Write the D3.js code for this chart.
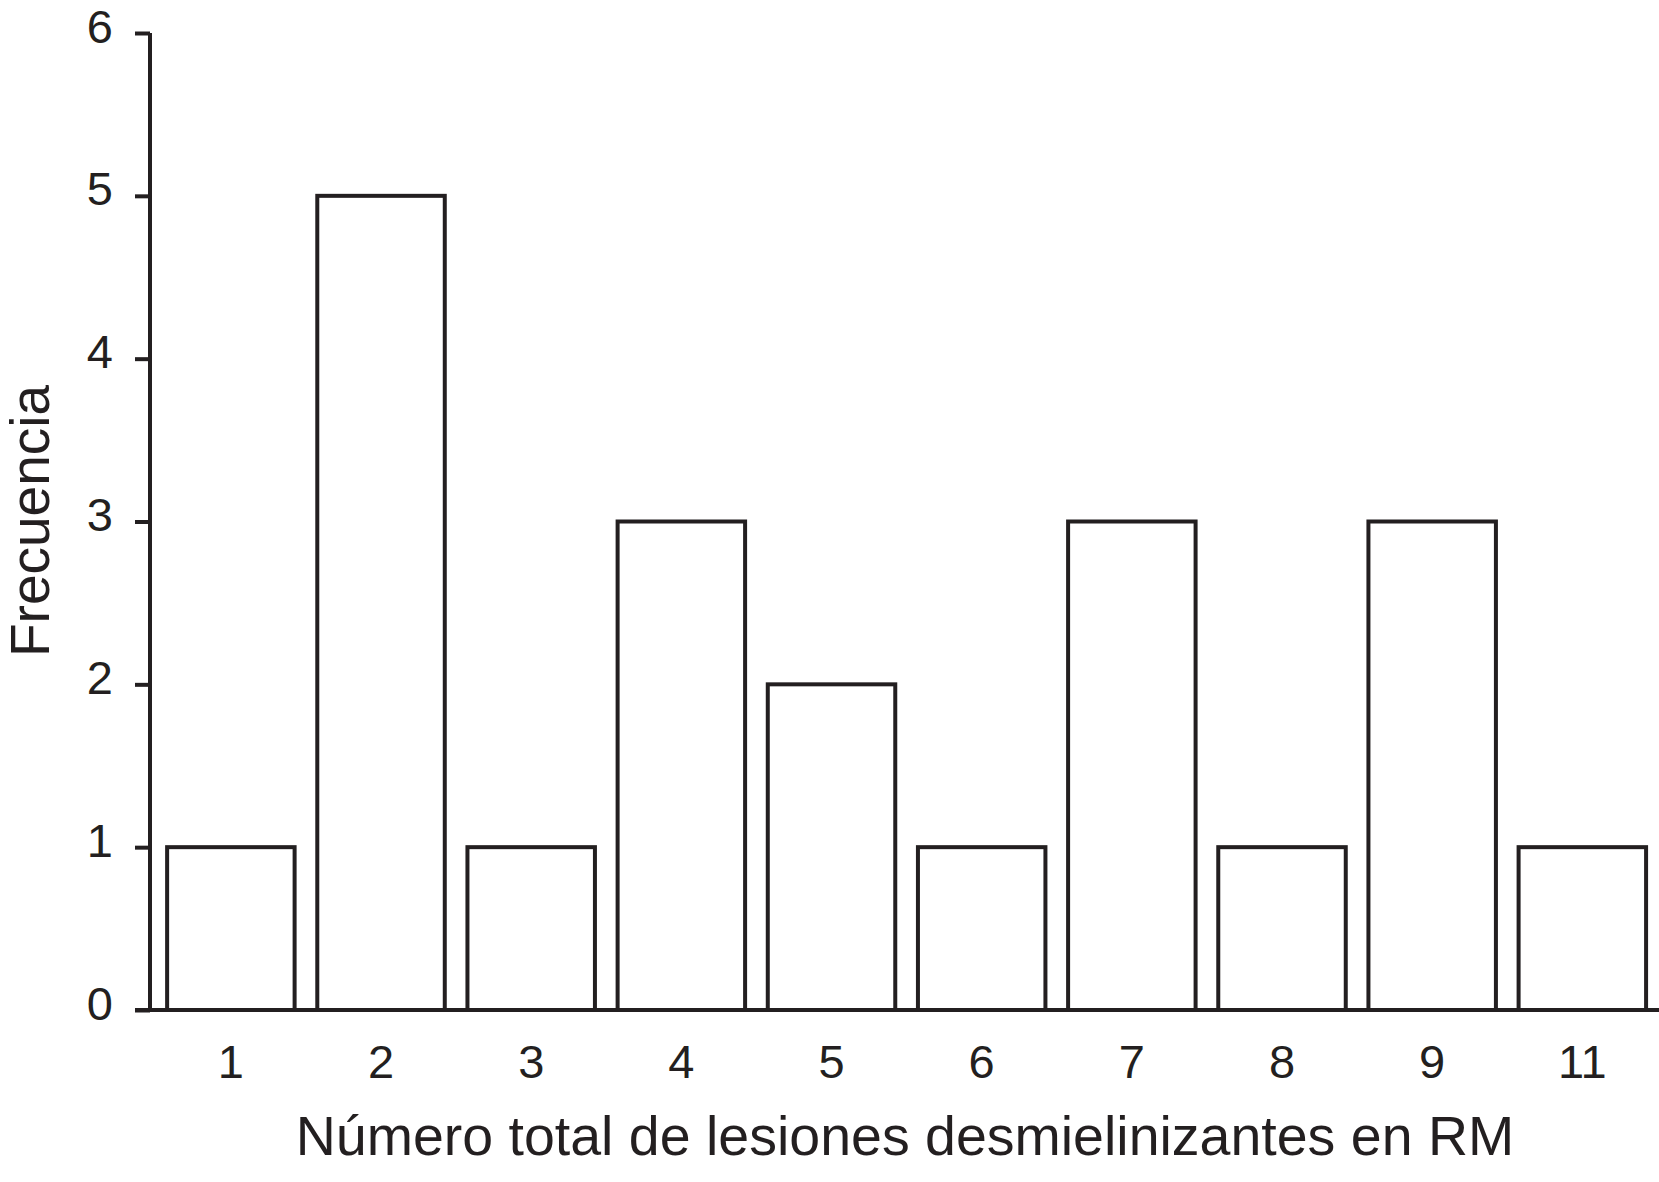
<!DOCTYPE html>
<html>
<head>
<meta charset="utf-8">
<script src="https://cdn.jsdelivr.net/npm/d3@7"></script>
<style>
  html, body { margin: 0; padding: 0; background: #fff; }
  svg { display: block; }
  text { font-family: "Liberation Sans", Arial, Helvetica, sans-serif; fill: #231f20; }
</style>
</head>
<body>
<svg id="chart" width="1659" height="1182"></svg>
<script>
const categories = ["1", "2", "3", "4", "5", "6", "7", "8", "9", "11"];
const frequencies = [1, 5, 1, 3, 2, 1, 3, 1, 3, 1];
const yTicks = [0, 1, 2, 3, 4, 5, 6];
const xTitle = "Número total de lesiones desmielinizantes en RM";
const yTitle = "Frecuencia";

const ink = "#231f20";
const svg = d3.select("#chart");

const y = d3.scaleLinear().domain([0, 6]).range([1010, 33]);
const x = d3.scaleBand().domain(categories).range([150, 1659])
  .paddingInner(0.151).paddingOuter(0.1).align(0.57);

// bars
svg.append("g").selectAll("rect").data(categories).join("rect")
  .attr("x", d => x(d))
  .attr("y", (d, i) => y(frequencies[i]))
  .attr("width", x.bandwidth())
  .attr("height", (d, i) => y(0) - y(frequencies[i]))
  .attr("fill", "#fff")
  .attr("stroke", ink)
  .attr("stroke-width", 4);

// y axis
const yAxis = svg.append("g").attr("transform", "translate(150,0)")
  .call(d3.axisLeft(y).tickValues(yTicks).tickFormat(d3.format("d")).tickSize(15).tickPadding(22));
yAxis.select(".domain").attr("d", `M0,${y(6)}V${y(0)}`).attr("stroke", ink).attr("stroke-width", 4);
yAxis.selectAll(".tick line").attr("stroke", ink).attr("stroke-width", 4);
yAxis.selectAll(".tick text")
  .attr("font-size", 47)
  .attr("font-family", "Liberation Sans, Arial, sans-serif")
  .attr("fill", ink)
  .attr("dy", null)
  .attr("y", 9);

// x axis (baseline, no tick marks)
const xAxis = svg.append("g").attr("transform", `translate(0,${y(0)})`)
  .call(d3.axisBottom(x).tickSize(0).tickPadding(0));
xAxis.select(".domain").attr("d", "M135,0H1659").attr("stroke", ink).attr("stroke-width", 4);
xAxis.selectAll(".tick text")
  .attr("font-size", 47)
  .attr("font-family", "Liberation Sans, Arial, sans-serif")
  .attr("fill", ink)
  .attr("dy", null)
  .attr("y", 68);

// titles
svg.append("text")
  .attr("x", 905).attr("y", 1155)
  .attr("text-anchor", "middle")
  .attr("font-size", 55.5)
  .text(xTitle);

svg.append("text")
  .attr("transform", "translate(49,521) rotate(-90)")
  .attr("text-anchor", "middle")
  .attr("font-size", 55)
  .text(yTitle);
</script>
</body>
</html>
